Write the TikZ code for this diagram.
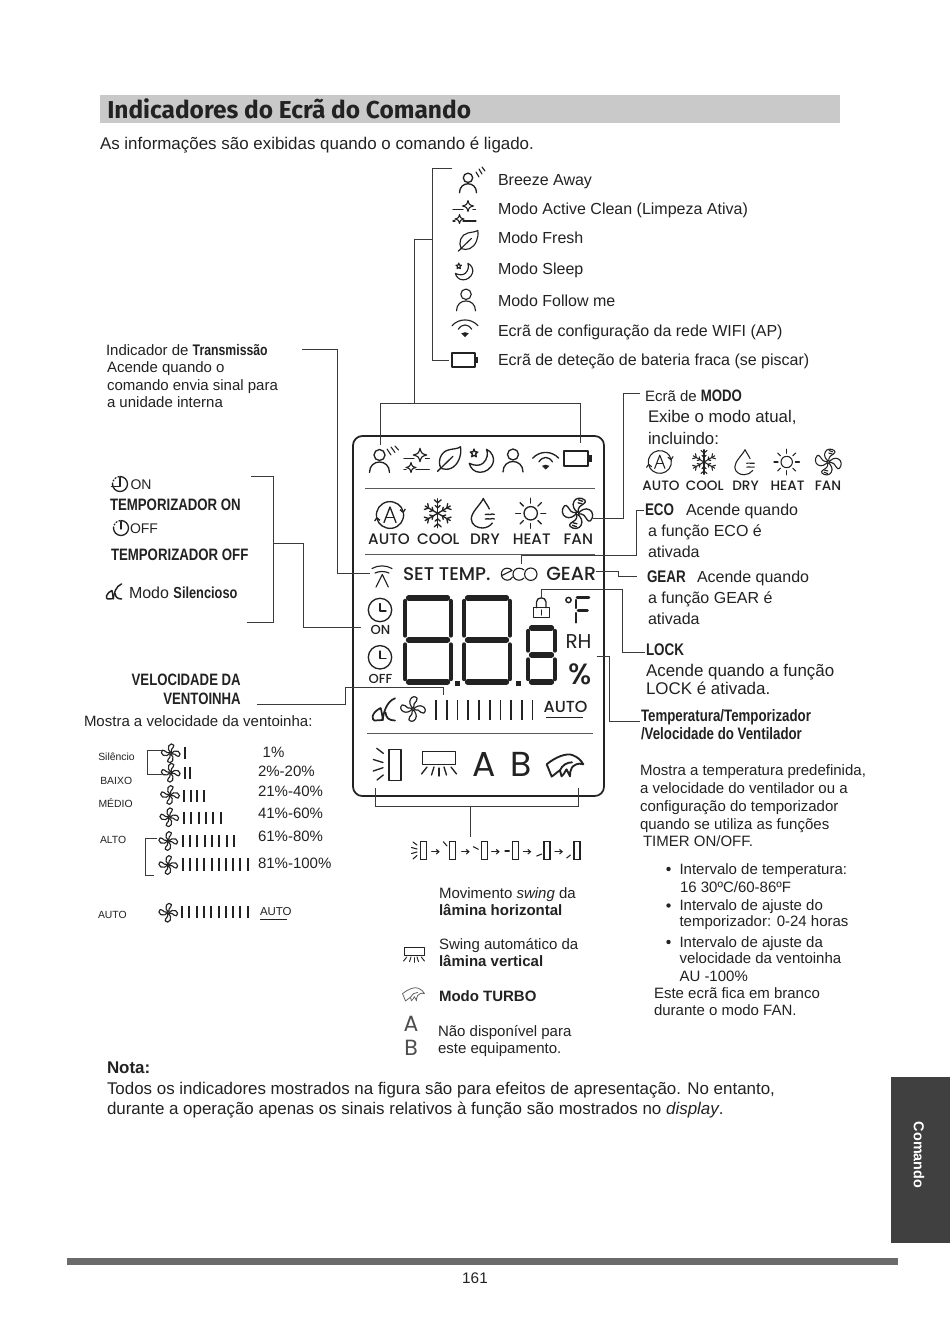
\documentclass[tikz,border=0pt]{standalone}
\usepackage{fontspec}
\usetikzlibrary{arrows.meta}
\setmainfont{Liberation Sans}
\newfontfamily\nb{Liberation Sans}[FakeStretch=0.8]
\newfontfamily\tf{Fira Sans}
\newfontfamily\lcd{Poppins}
\newfontfamily\lcdm{Poppins Medium}
\newcommand\fs[1]{\fontsize{#1}{#1}\selectfont}
\newcommand\nbf[1]{{\nb\bfseries #1}}
\definecolor{ink}{HTML}{222222}
\definecolor{lnk}{HTML}{3A3A3A}
\newcommand\fanblade{\draw (0,-1) .. controls (-3,-3) and (-6,-8) .. (-3.5,-12) .. controls (-2,-15.5) and (4,-16.5) .. (7.5,-13) .. controls (9.5,-10.5) and (4,-8.5) .. (2,-6.5) .. controls (0.5,-5) and (0.5,-3) .. (0.8,-1);}
\newcommand\fanbladeS{\draw (0,-1) .. controls (-3,-3) and (-5,-8) .. (-3,-11.5) .. controls (-1,-15) and (3,-15.5) .. (4.8,-12.5) .. controls (5.8,-10) and (2.5,-8.5) .. (1.3,-6) .. controls (.6,-4.5) and (.5,-3) .. (.8,-1);}
\tikzset{
 lab/.style={anchor=base west,inner sep=0,outer sep=0,text=ink,font=\fs{11.25}},
 big/.style={lab,font=\fs{12}},
 larg/.style={lab,font=\fs{12.7}},
 sm/.style={lab,font=\fs{11.25}},
 tiny/.style={lab,font=\fs{7.8}},
 lcdt/.style={anchor=base,inner sep=0,outer sep=0,text=ink,font=\lcdm\fs{11.4}},
 con/.style={draw=lnk,line width=.75pt},
 ic/.style={draw=ink,line width=1pt,line cap=round,line join=round},
 bar/.style={draw=ink,line width=1.5pt},
 hr/.style={draw=ink!75,line width=1.1pt},
 fanicon/.pic={
  \foreach \a in {0,90,180,270}{
   \begin{scope}[rotate=\a]\fanbladeS\end{scope}}
 },
 fanhatch/.pic={
  \foreach \a in {0,90,180,270}{
   \begin{scope}[rotate=\a]\fanblade\end{scope}}
  \foreach \a in {0,180}{
   \begin{scope}[rotate=\a]
    \draw (1,-13.5) -- (5,-12); \draw (0.5,-10.5) -- (4.5,-9.5);
   \end{scope}}
 },
 person/.pic={
  \draw (0,-5.5) circle (5.5);
  \draw (-10,12) .. controls (-10,5) and (-5,1.5) .. (0,1.5) .. controls (5,1.5) and (10,5) .. (10,12);
 },
 leaf/.pic={
  \draw (-8,9) .. controls (-12,2) and (-8,-8) .. (0,-9.5) .. controls (4,-10.5) and (9,-10.5) .. (11.5,-12.5) .. controls (13,-4) and (9,6) .. (2,9) .. controls (-1,10.5) and (-5,10) .. (-8,9);
  \draw (-11.5,12) -- (4,-3);
 },
 moon/.pic={
  \draw (5.3,-10.7) .. controls (11,-8) and (13,-2) .. (12,2) .. controls (10,9) and (4,12.3) .. (-1.3,12.3) .. controls (-7,12.3) and (-11,8) .. (-12,3.3) .. controls (-7,6) and (-1,6) .. (2,3) .. controls (6,-1) and (7,-6) .. (5.3,-10.7);
  \draw (-7.3,-11) -- (-6.3,-8.2) -- (-3.5,-8) -- (-5.6,-6.1) -- (-5,-3.2) -- (-7.3,-4.7) -- (-9.6,-3.2) -- (-9,-6.1) -- (-11.1,-8) -- (-8.3,-8.2) -- cycle;
 },
 wifi/.pic={
  \draw (-13,-3.3) .. controls (-6,-11) and (6,-11) .. (13,-3.3);
  \draw (-6.7,0.3) .. controls (-3,-5.5) and (3,-5.5) .. (6.7,0.3);
  \fill[ink] (-3.8,4.4) .. controls (-1,2.8) and (1,2.8) .. (3.8,4.4) -- (0,8) -- cycle;
 },
 battery/.pic={
  \draw (-14,-7.5) rectangle (10,7.5);
  \fill[ink] (10.5,-3.5) rectangle (13.2,3.5);
 },
 autoicon/.pic={
  \draw[-{Straight Barb[length=2.2pt,width=4pt]}] (-13.5,2) arc (172:352:13.5);
  \draw[-{Straight Barb[length=2.2pt,width=4pt]}] (13.5,-2) arc (352:532:13.5);
  \draw (-6,7.5) -- (0,-8) -- (6,7.5);
  \draw (-3.9,2.2) -- (3.9,2.2);
 },
 snow/.pic={
  \foreach \a in {0,60,120,180,240,300}{
   \begin{scope}[rotate=\a]
    \draw (0,0) -- (0,-14.5);
    \draw (-3.4,-13.5) -- (0,-10.5) -- (3.4,-13.5);
    \draw (-2.5,-7.8) -- (0,-5.5) -- (2.5,-7.8);
   \end{scope}}
 },
 drop/.pic={
  \draw (9,10) .. controls (7,13) and (3,15) .. (-1,15) .. controls (-6,15) and (-12,12) .. (-12,6) .. controls (-12,-1) and (-3,-8) .. (0,-14.5) .. controls (2,-10) and (5,-7) .. (6,-4);
  \draw (2,1.5) .. controls (4,-.5) and (5,3) .. (7,1.5) .. controls (8.5,.5) and (9.5,1) .. (11,1.5);
  \draw (2,6) .. controls (4,4) and (5,7.5) .. (7,6) .. controls (8.5,5) and (9.5,5.5) .. (11,6);
 },
 sun/.pic={
  \draw (0,0) circle (6.7);
  \foreach \a in {0,45,...,315}{\draw (\a:10.2) -- (\a:15);}
 },
 quiet/.pic={
  \draw (-3.8,-1.5) .. controls (-7,0) and (-11,3) .. (-11.8,6.5) .. controls (-12,9) and (-11.5,11) .. (-10,11) -- (-1.8,10.5) .. controls (-2,6) and (-3,2) .. (-3.8,-1.5);
  \draw (-1.8,10.5) .. controls (-1,3) and (2,-8) .. (10.5,-11.2);
  \draw (1,3) .. controls (1.5,8) and (4,11) .. (10.5,11);
 },
 turbo/.pic={
  \draw (-18.3,-4) .. controls (-10,-11) and (2,-16) .. (8,-13) .. controls (13,-11) and (16,-8) .. (18.3,-4) .. controls (13,-6) and (9,-3) .. (7,-1) .. controls (5,2) and (5,5) .. (5,8) -- (1.5,1) .. controls (0,4) and (-2,7) .. (-3.5,8) -- (-5,2) .. controls (-7,3) and (-10,6) .. (-13.3,8.3) -- cycle;
  \draw (-5,2) .. controls (-3,-3) and (2,-6) .. (7,-6);
 },
 vslat/.pic={
  \draw (-16.7,-6.3) rectangle (16.7,6.3);
  \draw (-17.5,16) -- (-12,9);
  \draw (-7.5,17) -- (-5,9);
  \draw (0,18) -- (0,10);
  \draw (7.5,17) -- (5,9);
  \draw (17.5,16) -- (12,9);
 },
}
\newcommand\sevenseg[4]{% x y w h
 \draw[ink,line width=4pt,line cap=round] (#1+5.5,#2+3) -- (#1+#3-5.5,#2+3);
 \draw[ink,line width=4pt,line cap=round] (#1+5.5,#2+#4/2) -- (#1+#3-5.5,#2+#4/2);
 \draw[ink,line width=4pt,line cap=round] (#1+5.5,#2+#4-3) -- (#1+#3-5.5,#2+#4-3);
 \draw[ink,line width=3.3pt,line cap=round] (#1+2.2,#2+6) -- (#1+2.2,#2+#4/2-4.5);
 \draw[ink,line width=3.3pt,line cap=round] (#1+2.2,#2+#4/2+4.5) -- (#1+2.2,#2+#4-6);
 \draw[ink,line width=3.3pt,line cap=round] (#1+#3-2.2,#2+6) -- (#1+#3-2.2,#2+#4/2-4.5);
 \draw[ink,line width=3.3pt,line cap=round] (#1+#3-2.2,#2+#4/2+4.5) -- (#1+#3-2.2,#2+#4-6);
}
\newcommand\starfour[3]{%
 \draw (#1,#2-#3) .. controls (#1+.22*#3,#2-.22*#3) .. (#1+#3,#2) .. controls (#1+.22*#3,#2+.22*#3) .. (#1,#2+#3) .. controls (#1-.22*#3,#2+.22*#3) .. (#1-#3,#2) .. controls (#1-.22*#3,#2-.22*#3) .. cycle;
}
\begin{document}
\begin{tikzpicture}[x=.75pt,y=-.75pt]
\useasboundingbox (0,0) rectangle (950,1344);
\fill[white] (0,0) rectangle (950,1344);
% header
\fill[black!21] (100,95) rectangle (840,123);
\node[anchor=base west,inner sep=0,text=ink,font=\tf\bfseries\fs{18.35}] (title) at (107,118.5) {Indicadores do Ecrã do Comando};
\node[larg] (intro) at (100,150) {As informações são exibidas quando o comando é ligado.};
% top list
\node[big] (t1) at (498,186) {Breeze Away};
\node[big] (t2) at (498,215) {Modo Active Clean (Limpeza Ativa)};
\node[big] (t3) at (498,244) {Modo Fresh};
\node[big] (t4) at (498,275) {Modo Sleep};
\node[big] (t5) at (498,306) {Modo Follow me};
\node[big] (t6) at (498,336.5) {Ecrã de configuração da rede WIFI (AP)};
\node[big] (t7) at (498,365.5) {Ecrã de deteção de bateria fraca (se piscar)};
% top-list icons
\pic[ic,scale=.85] at (468,182.5) {person};
\draw[ic,line width=.85pt] (476,172) -- (479,177) (479,169) -- (482,174) (482,167) -- (485,171);
\begin{scope}[ic,line width=.8pt]
 \draw (453,209.5) -- (463,209.5) (473,209.5) -- (475.5,209.5) (453,221) -- (455,221) (463,221) -- (476,221);
 \starfour{468}{206}{5.5}
 \starfour{459.5}{219}{4.5}
\end{scope}
\pic[ic,scale=.85,line width=.85pt] at (468,241) {leaf};
\pic[ic,scale=.72,line width=.85pt] at (464,271) {moon};
\pic[ic,scale=.95,line width=.85pt] at (466,299.5) {person};
\pic[ic,scale=1,line width=.85pt] at (465,329) {wifi};
\pic[ic,scale=.95,line width=1.2pt] at (465.5,360) {battery};
% left text
\node[lab] (trans) at (106,355) {Indicador de {\nb\bfseries\fs{11.5}Transmissão}};
\node[lab] (tr2) at (107,372.5) {Acende quando o};
\node[lab] (tr3) at (107,390.5) {comando envia sinal para};
\node[lab] (tr4) at (107,407.5) {a unidade interna};
% timers
\begin{scope}[ic]
 \draw (120,476.5) arc (270:540:7.5);
 \draw[dash pattern=on .8pt off 1.6pt] (112.5,484) arc (180:270:7.5);
 \draw (120,477.5) -- (120,486.7) -- (111.5,486.7);
 \draw (121,520.5) arc (270:540:7.5);
 \draw[dash pattern=on .8pt off 1.6pt] (113.5,528) arc (180:270:7.5);
 \draw (121,521.5) -- (121,529);
\end{scope}
\node[lab,font=\fs{10.5}] (on) at (130.5,489.3) {ON};
\node[lab,font=\fs{10.5}] (off) at (130,533.5) {OFF};
\node[lab,font=\nb\bfseries\fs{12.4}] (ton) at (110,510) {TEMPORIZADOR ON};
\node[lab,font=\nb\bfseries\fs{12.4}] (toff) at (111,560) {TEMPORIZADOR OFF};
\pic[ic,scale=.68,line width=1.1pt] at (114.5,591.5) {quiet};
\node[lab,font=\fs{12}] (silent) at (129,598.5) {Modo \nbf{Silencioso}};
% velocity
\node[anchor=base east,inner sep=0,text=ink,font=\nb\bfseries\fs{12.35}] (vel1) at (241,685) {VELOCIDADE DA};
\node[anchor=base east,inner sep=0,text=ink,font=\nb\bfseries\fs{12.35}] (vel2) at (241,704) {VENTOINHA};
\node[lab] (velt) at (84,726) {Mostra a velocidade da ventoinha:};
\node[tiny] (s1) at (98.3,760) {Silêncio};
\node[tiny] (s2) at (100.3,784) {BAIXO};
\node[tiny] (s3) at (98.5,807) {MÉDIO};
\node[tiny] (s4) at (100,843.5) {ALTO};
\node[tiny] (s5) at (98,918) {AUTO};
\begin{scope}[ic,line width=.85pt]
 \pic[scale=.65] at (170.7,753.3) {fanicon};
 \pic[scale=.65] at (170.7,772.7) {fanicon};
 \pic[scale=.65] at (170,795) {fanicon};
 \pic[scale=.65] at (169.3,817.3) {fanicon};
 \pic[scale=.65] at (168.3,841) {fanicon};
 \pic[scale=.65] at (168.3,865) {fanicon};
 \pic[scale=.65] at (168.3,912.7) {fanicon};
\end{scope}
\draw[bar] (185.3,747.3) -- ++(0,12);
\foreach \i in {0,1}{\draw[bar] ({185+5.4*\i},767) -- ++(0,11.7);}
\foreach \i in {0,...,3}{\draw[bar] ({184+6.67*\i},790) -- ++(0,11.7);}
\foreach \i in {0,...,5}{\draw[bar] ({184+7.33*\i},811.7) -- ++(0,12.3);}
\foreach \i in {0,...,7}{\draw[bar] ({182.7+7.33*\i},835) -- ++(0,12.3);}
\foreach \i in {0,...,9}{\draw[bar] ({182.7+7.22*\i},858.3) -- ++(0,12.7);}
\foreach \i in {0,...,9}{\draw[bar] ({182+7.3*\i},906) -- ++(0,12.3);}
\node[lab] (p1) at (262.7,757.5) {1\%};
\node[lab] (p2) at (258,776) {2\%-20\%};
\node[lab] (p3) at (258,796.5) {21\%-40\%};
\node[lab] (p4) at (258,818.5) {41\%-60\%};
\node[lab] (p5) at (258,841.5) {61\%-80\%};
\node[lab] (p6) at (258,868) {81\%-100\%};
\node[lab,font=\fs{8.6}] (pa) at (260,915.5) {AUTO};
\draw[draw=ink,line width=.7pt] (260,919.5) -- (287,919.5);
\draw[con] (161.7,750.7) -- (147.3,750.7) -- (147.3,774.3) -- (161.7,774.3);
\draw[con] (157.3,838.3) -- (145,838.3) -- (145,875) -- (154,875);
% LCD panel
\draw[draw=ink,line width=1.3pt,rounded corners=7pt] (353,436) rectangle (604,796);
\draw[hr] (365,488.5) -- (595,488.5);
\draw[hr] (365,554.3) -- (595,554.3);
\draw[hr] (367,733.5) -- (593,733.5);
\pic[ic] at (379.5,460.5) {person};
\draw[ic,line width=.8pt] (387,449) -- (391,455) (391,447) -- (395,452.5) (395,446) -- (398.5,450);
\begin{scope}[ic,line width=.85pt]
 \draw (404,458.5) -- (414,458.5) (425.5,458.5) -- (429.3,458.5) (404,469.3) -- (406,469.3) (416,469.3) -- (429.3,469.3);
 \starfour{420}{455}{6.7}
 \starfour{411}{467.5}{5}
\end{scope}
\pic[ic] at (449,459.3) {leaf};
\pic[ic] at (481.3,460) {moon};
\pic[ic] at (513,460) {person};
\pic[ic] at (545.7,461.5) {wifi};
\pic[ic,line width=1.3pt] at (578.3,458.7) {battery};
\pic[ic] at (390,515) {autoicon};
\pic[ic] at (437.7,513.3) {snow};
\pic[ic] at (483.3,513) {drop};
\pic[ic] at (530.7,513.3) {sun};
\pic[ic] at (577.5,513.3) {fanhatch};
\node[lcdt] (m1) at (389,544.5) {AUTO};
\node[lcdt] (m2) at (438.3,544.5) {COOL};
\node[lcdt] (m3) at (485,544.5) {DRY};
\node[lcdt] (m4) at (531.7,544.5) {HEAT};
\node[lcdt] (m5) at (578.3,544.5) {FAN};
% transmit
\begin{scope}[ic,line width=.85pt]
 \draw (372,568.5) .. controls (378,565) and (386,565) .. (392,568.5);
 \draw (375,573) .. controls (379,571) and (385,571) .. (389,573);
 \draw (376,587) -- (382.3,574.5) -- (388.3,587);
\end{scope}
\node[lcdt,font=\lcdm\fs{13.8},anchor=base west] (settemp) at (403,580) {SET TEMP.};
\node[lcdt,font=\lcdm\fs{14.2},anchor=base east] (gear) at (596,580) {GEAR};
\begin{scope}[ic,line width=.85pt]
 \draw (501.7,575.5) -- (512,570.5) .. controls (510.5,568.8) and (509,568.2) .. (507,568.2) .. controls (503.5,568.2) and (501.3,571) .. (501.3,574.2) .. controls (501.3,577.5) and (504,580.2) .. (507.5,580.2) .. controls (509.5,580.2) and (511.3,579.2) .. (512.5,577);
 \draw (524,570) .. controls (522.5,568.8) and (521,568.2) .. (519,568.2) .. controls (515.5,568.2) and (513,571) .. (513,574.2) .. controls (513,577.5) and (515.5,580.2) .. (519,580.2) .. controls (521,580.2) and (522.5,579.5) .. (524,578);
 \draw (530.8,574.2) circle (6.2);
\end{scope}
% clocks
\draw[ic] (380,610) circle (11.7);
\draw[ic] (380,603.5) -- (380,611) -- (386,611);
\node[lcdt,font=\lcdm\fs{9.8}] (lon) at (380.5,634.5) {ON};
\draw[ic] (380,657.3) circle (11.7);
\draw[ic] (380,651) -- (380,658.5) -- (386,658.5);
\node[lcdt,font=\lcdm\fs{9.8}] (loff) at (380.5,683.5) {OFF};
% digits
\sevenseg{403}{595}{50}{90}
\sevenseg{462}{595}{50}{90}
\sevenseg{526}{625}{31}{60}
\fill[ink] (455,680.5) rectangle (460,685.5);
\fill[ink] (516,680.5) rectangle (521,685.5);
% lock
\draw[ic] (533.3,607.7) rectangle (549.3,617.8);
\draw[ic] (536.5,607.7) -- (536.5,602) .. controls (536.5,596.5) and (546,596.5) .. (546,602) -- (546,607.7);
\draw[ic] (541.3,610) -- (541.3,615);
% degF
\draw[ic,line width=1.1pt] (568.5,600) circle (2.6);
\draw[ink,line width=2pt,line cap=round] (577,597.5) -- (589,597.5);
\draw[ink,line width=2pt,line cap=round] (578,610.7) -- (587.5,610.7);
\draw[ink,line width=1.8pt,line cap=round] (576,600) -- (576,608) (576,613) -- (576,622.5);
\node[lcdt,font=\lcd\fs{15},anchor=base west] (rh) at (565.5,648) {RH};
\node[lcdt,font=\lcdm\fs{22},anchor=base west] (pct) at (568,684) {\%};
% speed row
\pic[ic,line width=1.3pt] at (384.5,709.5) {quiet};
\pic[ic,scale=.85,line width=.9pt] at (413,709) {fanicon};
\foreach \i in {0,...,9}{\draw[draw=ink,line width=1.2pt] ({436+10.74*\i},700) -- ++(0,20);}
\node[lcdt,font=\lcdm\fs{12},anchor=base] (autob) at (565.5,712) {AUTO};
\draw[draw=ink,line width=.9pt] (546,717.7) -- (583,717.7);
% bottom row
\draw[ic] (389,749.3) rectangle (401,780.7);
\draw[ic] (376.7,748.3) -- (383.3,753.3) (373.3,759.5) -- (383,762.5) (373.3,771) -- (383,767.7) (377,780) -- (383.3,775);
\pic[ic] at (439,758) {vslat};
\node[lcdt,font=\lcd\fs{26},anchor=base] (bA) at (484,776.7) {A};
\node[lcdt,font=\lcd\fs{26},anchor=base] (bB) at (521,776.7) {B};
\pic[ic,line width=1.4pt] at (565,768.3) {turbo};
% swing sequence
\begin{scope}[draw=ink,line width=.8pt,line cap=round]
 \draw (420.7,841.7) rectangle (426.7,859.3);
 \draw (449.3,841.7) rectangle (455.7,859.3);
 \draw (481.7,841.7) rectangle (487.3,859.3);
 \draw (512.3,841.7) rectangle (518.3,859.3);
 \draw (544,841.7) rectangle (550,859.3);
 \draw (574,841.7) rectangle (580,859.3);
 \draw (413,842) -- (417,845) (411.5,847.5) -- (417,849) (411.5,853.5) -- (417,852) (413,859) -- (417,855.5);
 \draw (443.3,841.7) -- (447,846);
 \draw (473.3,846.7) -- (478.3,849.3);
 \draw (505,851) -- (509.3,851);
 \draw (536.7,856) -- (541.7,854);
 \draw (566.7,858) -- (570.5,855);
 \foreach \a in {431.7,461.7,491.7,523.3,555}{\draw[-{Straight Barb[length=2pt,width=3.5pt]}] (\a,851.7) -- ++(8,0);}
\end{scope}
\node[lab] (sw1) at (439,898) {Movimento \textit{swing} da};
\node[lab,font=\bfseries\fs{11.25}] (sw2) at (439,915) {lâmina horizontal};
\node[lab] (sw3) at (439,949) {Swing automático da};
\node[lab,font=\bfseries\fs{11.25}] (sw4) at (439,966) {lâmina vertical};
\node[lab,font=\bfseries\fs{11.25}] (sw5) at (439,1001) {Modo TURBO};
\node[lab] (sw6) at (438,1036) {Não disponível para};
\node[lab] (sw7) at (438,1053) {este equipamento.};
\pic[ic,scale=.6,line width=.7pt] at (414,951.5) {vslat};
\pic[ic,scale=.6,line width=.6pt,draw=ink!70] at (413.5,996) {turbo};
\node[lab,font=\lcd\fs{16.5},text=ink!80,anchor=base] (lA) at (411,1031) {A};
\node[lab,font=\lcd\fs{16.5},text=ink!80,anchor=base] (lB) at (411,1055) {B};
% right text
\node[lab,font=\fs{11.25}] (mo1) at (645,401) {Ecrã de {\nb\bfseries\fs{12.4}MODO}};
\node[lab,font=\fs{12.6}] (mo2) at (648,422) {Exibe o modo atual,};
\node[lab,font=\fs{12.6}] (mo3) at (648,444) {incluindo:};
\pic[ic,scale=.85,line width=.8pt] at (659.8,462) {autoicon};
\pic[ic,scale=.85,line width=.8pt] at (704,462) {snow};
\pic[ic,scale=.85,line width=.8pt] at (745,462) {drop};
\pic[ic,scale=.85,line width=.8pt] at (786.7,462) {sun};
\pic[ic,scale=.85,line width=.8pt] at (828.3,462) {fanhatch};
\node[lcdt,font=\lcdm\fs{10.2}] (mm1) at (661,490.7) {AUTO};
\node[lcdt,font=\lcdm\fs{10.2}] (mm2) at (704.7,490.7) {COOL};
\node[lcdt,font=\lcdm\fs{10.2}] (mm3) at (745.5,490.7) {DRY};
\node[lcdt,font=\lcdm\fs{10.2}] (mm4) at (787.5,490.7) {HEAT};
\node[lcdt,font=\lcdm\fs{10.2}] (mm5) at (828,490.7) {FAN};
\node[big,font=\nb\bfseries\fs{12.6}] (eco) at (645,515) {ECO};
\node[big] (ec1) at (686,515) {Acende quando};
\node[big] (ec2) at (648,536) {a função ECO é};
\node[big] (ec3) at (648,557) {ativada};
\node[big,font=\nb\bfseries\fs{12.6}] (ge) at (647,582) {GEAR};
\node[big] (ge1) at (697,582) {Acende quando};
\node[big] (ge2) at (648,603) {a função GEAR é};
\node[big] (ge3) at (648,624) {ativada};
\node[big,font=\nb\bfseries\fs{12.6}] (lo) at (646,655) {LOCK};
\node[larg] (lo1) at (646,676) {Acende quando a função};
\node[larg] (lo2) at (646,694) {LOCK é ativada.};
\node[lab,font=\nb\bfseries\fs{12.45}] (te1) at (641,721) {Temperatura/Temporizador};
\node[lab,font=\nb\bfseries\fs{12.45}] (te2) at (641,739) {/Velocidade do Ventilador};
\node[sm] (d1) at (640,775) {Mostra a temperatura predefinida,};
\node[sm] (d2) at (640,793) {a velocidade do ventilador ou a};
\node[sm] (d3) at (640,811) {configuração do temporizador};
\node[sm] (d4) at (640,829) {quando se utiliza as funções};
\node[sm] (d5) at (643,846) {TIMER ON/OFF.};
\fill[ink] (668.5,869) circle (2.2);
\fill[ink] (668.5,905.5) circle (2.2);
\fill[ink] (668.5,942) circle (2.2);
\node[sm] (b1) at (679.5,874) {Intervalo de temperatura:};
\node[sm] (b2) at (680,892) {16 30ºC/60-86ºF};
\node[sm] (b3) at (679.5,910) {Intervalo de ajuste do};
\node[sm] (b4) at (679.5,926) {temporizador: 0-24 horas};
\node[sm] (b5) at (679.5,947) {Intervalo de ajuste da};
\node[sm] (b6) at (679.5,963) {velocidade da ventoinha};
\node[sm] (b7) at (679.5,981) {AU -100\%};
\node[sm] (b8) at (654,998) {Este ecrã fica em branco};
\node[sm] (b9) at (654,1015) {durante o modo FAN.};
% note
\node[larg,font=\bfseries\fs{12.7}] (n0) at (107,1073) {Nota:};
\node[larg] (n1) at (107,1094) {Todos os indicadores mostrados na figura são para efeitos de apresentação. No entanto,};
\node[larg] (n2) at (107,1114) {durante a operação apenas os sinais relativos à função são mostrados no \textit{display}.};
% footer
\fill[black!75] (891,1077) rectangle (950,1243);
\node[anchor=center,inner sep=0,rotate=-90,text=white,font=\bfseries\fs{10.8}] (tab) at (919,1155) {Comando};
\fill[black!58] (67,1258) rectangle (898,1265);
\node[anchor=base,inner sep=0,text=ink,font=\fs{11.5}] (page) at (475,1283) {161};
% connectors
\coordinate (a1) at (452,168.3);
\coordinate (a2) at (449,360);
\coordinate (a3) at (414,403.5);
\draw[con] (a1) -- (432.5,168.3) -- (432.5,360) -- (a2);
\draw[con] (432.5,240) -- (414,240) -- (a3);
\coordinate (a4) at (380.7,445);
\coordinate (a5) at (580.7,443);
\draw[con] (a4) -- (380.7,403.5) -- (580.7,403.5) -- (a5);
\coordinate (c1) at (302,349);
\coordinate (c2) at (370,573.3);
\draw[con] (c1) -- (337.5,349) -- (337.5,573.3) -- (c2);
\coordinate (c3) at (251,476);
\coordinate (c4) at (246.7,622.7);
\draw[con] (c3) -- (273.5,476) -- (273.5,622.7) -- (c4);
\coordinate (c5) at (360.7,627.5);
\draw[con] (273.5,543.5) -- (303,543.5) -- (303,627.5) -- (c5);
\coordinate (c6) at (257,704);
\coordinate (c7) at (443.5,695);
\draw[con] (c6) -- (345,704) -- (345,687.7) -- (443.5,687.7) -- (c7);
\coordinate (c8) at (640,393);
\coordinate (c9) at (593,518);
\draw[con] (c8) -- (623,393) -- (623,518) -- (c9);
\coordinate (c10) at (644,510);
\coordinate (c11) at (521.7,564);
\draw[con] (c10) -- (636,510) -- (636,555.7) -- (521.7,555.7) -- (c11);
\coordinate (c12) at (595.5,571.7);
\coordinate (c13) at (637,576.7);
\draw[con] (c12) -- (618.3,571.7) -- (618.3,576.7) -- (c13);
\coordinate (c14) at (541.7,598);
\coordinate (c15) at (645,652);
\draw[con] (c14) -- (541.7,589) -- (622,589) -- (622,652) -- (c15);
\coordinate (c16) at (596.7,656.7);
\coordinate (c17) at (640,721.7);
\draw[con] (c16) -- (609.3,656.7) -- (609.3,721.7) -- (c17);
\coordinate (c18) at (375,788.3);
\coordinate (c19) at (578.3,788.3);
\draw[con] (c18) -- (375,806) -- (578.3,806) -- (c19);
\coordinate (c20) at (470.7,836.7);
\draw[con] (470.7,806) -- (c20);
\end{tikzpicture}
\end{document}
